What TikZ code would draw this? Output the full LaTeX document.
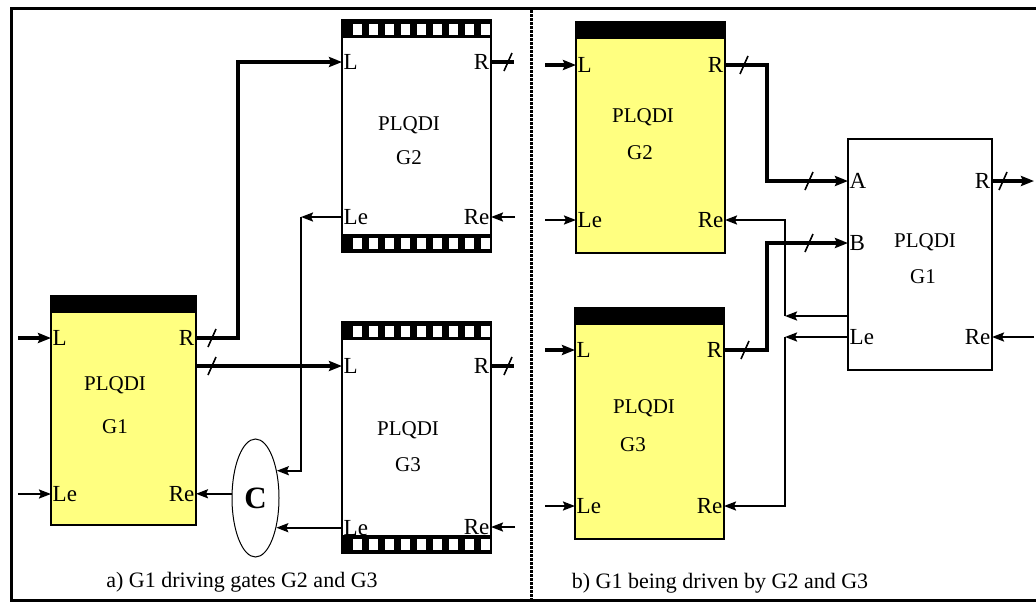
\documentclass[tikz,border=0pt]{standalone}
\usepackage{fontspec}
\setmainfont{Liberation Serif}
\usetikzlibrary{arrows.meta,shapes.geometric}
\definecolor{gateyellow}{RGB}{255,255,128}
\newcommand\solidband[3]{\fill[black] (#1,#3) rectangle (#2,#3+17);}
\newcommand\checkband[3]{%
  \fill[black] (#1,#3) rectangle (#2,#3+18);
  \foreach \k in {0,...,8} {\fill[white] (#1+11+16*\k,#3+3.5) rectangle (#1+20+16*\k,#3+14.5);}}
\begin{document}
\begin{tikzpicture}[x=1pt,y=-1pt,
  box/.style={draw, line width=1.8pt, inner sep=0pt, outer sep=0pt, anchor=north west},
  gtext/.style={font=\fontsize{21}{21}\selectfont, inner sep=0pt},
  portw/.style={font=\fontsize{23}{23}\selectfont, anchor=west, inner sep=1.5pt},
  porte/.style={font=\fontsize{23}{23}\selectfont, anchor=east, inner sep=1.5pt},
  caption/.style={font=\fontsize{22}{22}\selectfont, inner sep=0pt},
  thickline/.style={line width=4pt},
  thickarr/.style={line width=4pt, -{Stealth[length=13pt,width=10pt,inset=2pt]}},
  thinarr/.style={line width=2pt, -{Stealth[length=12pt,width=9pt,inset=2pt]}},
  slash/.style={line width=1.6pt}]
\useasboundingbox (0,0) rectangle (1036,603);
% frame and divider
\draw[line width=3pt] (1036,8.5) -- (11,8.5) -- (11,600) -- (1036,600);
\draw[line width=3pt, dash pattern=on 2.5pt off 1.5pt] (531,10) -- (531,600);

% ---------------- panel a ----------------
\node[box, fill=white, minimum width=149pt, minimum height=232pt] (aG2) at (342,20) {};
\checkband{342}{491}{20}\checkband{342}{491}{234}
\node[box, fill=gateyellow, minimum width=145pt, minimum height=229pt] (aG1) at (51,296) {};
\solidband{51}{196}{296}
\node[box, fill=white, minimum width=149pt, minimum height=231pt] (aG3) at (342,322) {};
\checkband{342}{491}{322}\checkband{342}{491}{535}
\node[draw, ellipse, line width=1pt, minimum width=47pt, minimum height=118pt, inner sep=0pt] (C) at (255.5,498) {\fontsize{31}{31}\selectfont\bfseries C};

\node[gtext] (aG2t1) at (409,125) {PLQDI};
\node[gtext] (aG2t2) at (409,158) {G2};
\node[gtext] (aG1t1) at (115,385) {PLQDI};
\node[gtext] (aG1t2) at (115,427) {G1};
\node[gtext] (aG3t1) at (408,430) {PLQDI};
\node[gtext] (aG3t2) at (408,465) {G3};

\coordinate (aG2-L) at (342,62);  \coordinate (aG2-R) at (491,62);
\coordinate (aG2-Le) at (342,217); \coordinate (aG2-Re) at (491,217);
\coordinate (aG1-L) at (51,338);  \coordinate (aG1-R) at (196,338);
\coordinate (aG1-Le) at (51,494); \coordinate (aG1-Re) at (aG1.east |- C.170);
\coordinate (aG1-R2) at (196,366);
\coordinate (aG3-L) at (342,366); \coordinate (aG3-R) at (491,366);
\coordinate (aG3-Le) at (aG3.west |- C.-55); \coordinate (aG3-Re) at (491,527);

\node[portw] (aG2Lt) at (aG2-L) {L};   \node[porte] (aG2Rt) at (aG2-R) {R};
\node[portw] (aG2Let) at (aG2-Le) {Le}; \node[porte] (aG2Ret) at (aG2-Re) {Re};
\node[portw] (aG1Lt) at (aG1-L) {L};   \node[porte] (aG1Rt) at (aG1-R) {R};
\node[portw] (aG1Let) at (aG1-Le) {Le}; \node[porte] (aG1Ret) at (aG1-Re) {Re};
\node[portw] (aG3Lt) at (aG3-L) {L};   \node[porte] (aG3Rt) at (aG3-R) {R};
\node[portw] (aG3Let) at (aG3-Le) {Le}; \node[porte] (aG3Ret) at (aG3-Re) {Re};

\coordinate (aIn1) at (18,338); \coordinate (aIn2) at (18,494);
\coordinate (aJ1) at (238,0);   \coordinate (aJ2) at (301,217);
\coordinate (aG2-o) at (514,62); \coordinate (aG2-i) at (515,217);
\coordinate (aG3-o) at (514,366); \coordinate (aG3-i) at (515,527);

\draw[thickarr] (aIn1) -- (aG1-L);
\draw[thinarr] (aIn2) -- (aG1-Le);
\draw[thickarr] (aG1-R) -- (aJ1 |- aG1-R) |- (aG2-L);
\draw[slash] (212,338) +(-4,9) -- +(4,-9);
\draw[thickarr] (aG1-R2) -- (aG3-L);
\draw[slash] (212,366) +(-4,9) -- +(4,-9);
\draw[thinarr] (aG2-Le) -- (aJ2);
\draw[thinarr] (aJ2) |- (C.52);
\draw[thinarr] (aG3-Le) -- (C.-55);
\draw[thinarr] (C.170) -- (aG1-Re);
\draw[thickline] (aG2-R) -- (aG2-o);
\draw[slash] (508,62) +(-4,9) -- +(4,-9);
\draw[thinarr] (aG2-i) -- (aG2-Re);
\draw[thickline] (aG3-R) -- (aG3-o);
\draw[slash] (508,366) +(-4,9) -- +(4,-9);
\draw[thinarr] (aG3-i) -- (aG3-Re);

\node[caption] (capA) at (242,582) {a) G1 driving gates G2 and G3};

% ---------------- panel b ----------------
\node[box, fill=gateyellow, minimum width=149pt, minimum height=231pt] (bG2) at (576,22) {};
\solidband{576}{725}{22}
\node[box, fill=gateyellow, minimum width=149pt, minimum height=231pt] (bG3) at (575,308) {};
\solidband{575}{724}{308}
\node[box, fill=white, minimum width=144pt, minimum height=231pt] (bG1) at (848,139) {};

\node[gtext] (bG2t1) at (643,117) {PLQDI};
\node[gtext] (bG2t2) at (640,153) {G2};
\node[gtext] (bG3t1) at (644,408) {PLQDI};
\node[gtext] (bG3t2) at (633,445) {G3};
\node[gtext] (bG1t1) at (925,242) {PLQDI};
\node[gtext] (bG1t2) at (923,277) {G1};

\coordinate (bG2-L) at (576,65);  \coordinate (bG2-R) at (725,65);
\coordinate (bG2-Le) at (576,220); \coordinate (bG2-Re) at (725,220);
\coordinate (bG3-L) at (575,350);  \coordinate (bG3-R) at (724,350);
\coordinate (bG3-Le) at (575,506); \coordinate (bG3-Re) at (724,506);
\coordinate (bG1-A) at (848,181);  \coordinate (bG1-R) at (992,181);
\coordinate (bG1-B) at (848,243);
\coordinate (bG1-X) at (848,316);
\coordinate (bG1-Le) at (848,337); \coordinate (bG1-Re) at (992,337);

\node[portw] (bG2Lt) at (bG2-L) {L};   \node[porte] (bG2Rt) at (bG2-R) {R};
\node[portw] (bG2Let) at (bG2-Le) {Le}; \node[porte] (bG2Ret) at (bG2-Re) {Re};
\node[portw] (bG3Lt) at (bG3-L) {L};   \node[porte] (bG3Rt) at (bG3-R) {R};
\node[portw] (bG3Let) at (bG3-Le) {Le}; \node[porte] (bG3Ret) at (bG3-Re) {Re};
\node[portw] (bG1At) at (bG1-A) {A};   \node[porte] (bG1Rt) at (bG1-R) {R};
\node[portw] (bG1Bt) at (bG1-B) {B};
\node[portw] (bG1Let) at (bG1-Le) {Le}; \node[porte] (bG1Ret) at (bG1-Re) {Re};

\coordinate (bIn1) at (545,65);  \coordinate (bIn2) at (545,220);
\coordinate (bIn3) at (545,350); \coordinate (bIn4) at (545,506);
\coordinate (bJ1) at (767,0);    \coordinate (bJ3) at (785,316); \coordinate (bJ4) at (785,337);
\coordinate (bOut) at (1034,181); \coordinate (bIn5) at (1034,337);

\draw[thickarr] (bIn1) -- (bG2-L);
\draw[thinarr] (bIn2) -- (bG2-Le);
\draw[thickarr] (bIn3) -- (bG3-L);
\draw[thinarr] (bIn4) -- (bG3-Le);
\draw[thickarr] (bG2-R) -- (bJ1 |- bG2-R) |- (bG1-A);
\draw[slash] (744,65) +(-4,9) -- +(4,-9);
\draw[slash] (809,181) +(-4,9) -- +(4,-9);
\draw[thickarr] (bG3-R) -- (bJ1 |- bG3-R) |- (bG1-B);
\draw[slash] (745,350) +(-4,9) -- +(4,-9);
\draw[slash] (809,243) +(-4,9) -- +(4,-9);
\draw[thickarr] (bG1-R) -- (bOut);
\draw[slash] (1003,181) +(-4,9) -- +(4,-9);
\draw[thinarr] (bIn5) -- (bG1-Re);
\draw[thinarr] (bG1-X) -- (bJ3);
\draw[thinarr] (bJ3) |- (bG2-Re);
\draw[thinarr] (bG1-Le) -- (bJ4);
\draw[thinarr] (bJ4) |- (bG3-Re);

\node[caption] (capB) at (720,583) {b) G1 being driven by G2 and G3};
\end{tikzpicture}
\end{document}
